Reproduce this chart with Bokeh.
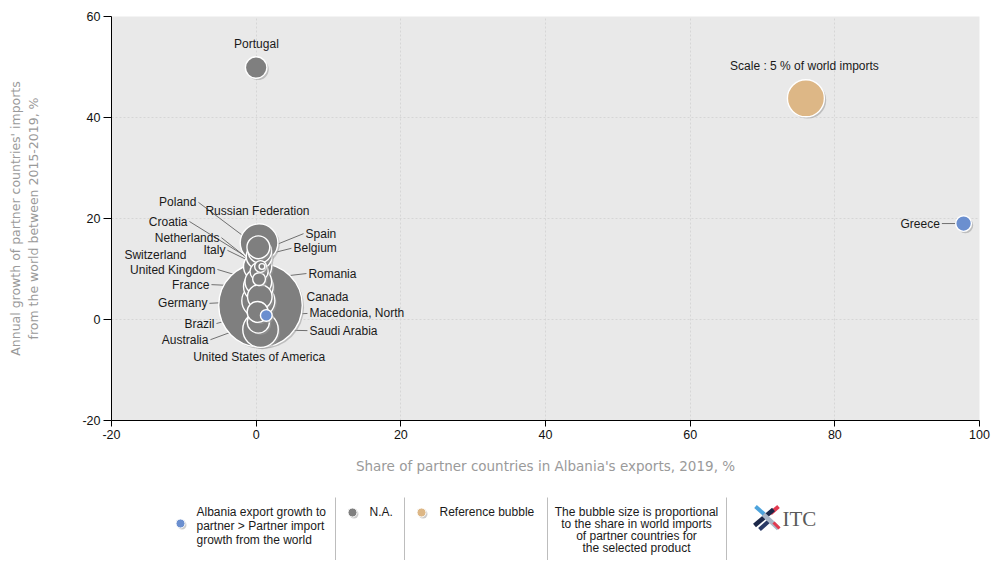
import math
from bokeh.plotting import figure
from bokeh.models import Range1d, FixedTicker
from bokeh.layouts import column
from bokeh.core.properties import value
from bokeh.embed import file_html
from bokeh.resources import INLINE

# ---------------- data ----------------
countries = ["United States of America", "Russian Federation", "Saudi Arabia", "Germany",
             "France", "Netherlands", "United Kingdom", "Belgium", "Canada", "Spain",
             "Poland", "Australia", "Brazil", "Switzerland", "Romania", "Italy",
             "Macedonia, North", "Croatia", "Portugal", "Greece"]
share_exports = [0.6, 0.4, 0.6, 0.3, 0.3, 0.2, 0.3, 0.4, 0.5, 0.5,
                 0.3, 0.3, 0.2, 0.4, 0.4, 0.6, 1.4, 0.8, 0.0, 97.8]
import_growth = [2.8, 15.2, -2.0, 3.7, 6.5, 10.5, 7.5, 12.5, 4.5, 13.5,
                 14.3, -0.5, 1.5, 9.5, 8.0, 10.5, 0.8, 10.5, 49.9, 19.0]
world_import_share = [25.5, 5.2, 4.6, 4.0, 3.2, 2.9, 2.6, 2.4, 2.2, 2.0,
                      1.9, 1.8, 1.6, 1.2, 0.6, 0.5, 0.5, 0.12, 1.7, 0.9]
group = ["na"] * 16 + ["up", "na", "na", "up"]

ref_label = "Scale : 5 % of world imports"
ref_x = [76.0]
ref_y = [43.8]
ref_share = [5.0]

x_ticks = [-20, 0, 20, 40, 60, 80, 100]
y_ticks = [-20, 0, 20, 40, 60]

# ---------------- label layout (data coords) ----------------
label_layout = {
    "Poland": (-7.98, 23.2, "right", True),
    "Russian Federation": (-7.29, 21.4, "left", False),
    "Croatia": (-9.22, 19.4, "right", True),
    "Netherlands": (-4.8, 16.2, "right", True),
    "Switzerland": (-9.36, 12.7, "right", False),
    "Italy": (-3.97, 13.7, "right", True),
    "United Kingdom": (-5.35, 9.9, "right", True),
    "France": (-6.18, 6.9, "right", True),
    "Germany": (-6.46, 3.2, "right", True),
    "Brazil": (-5.49, -0.8, "right", True),
    "Australia": (-6.32, -4.0, "right", True),
    "United States of America": (0.46, -5.6, "center", True),
    "Spain": (6.55, 17.0, "left", True),
    "Belgium": (4.88, 14.1, "left", True),
    "Romania": (6.95, 9.1, "left", True),
    "Canada": (6.68, 4.4, "left", False),
    "Macedonia, North": (7.09, 1.2, "left", True),
    "Saudi Arabia": (7.09, -2.2, "left", True),
    "Portugal": (0.04, 54.5, "center", False),
    "Greece": (94.8, 19.0, "right", True),
}

REF_D = 37.0
def diam(s):
    return REF_D * math.sqrt(s / 5.0)

COL = {"na": "#7f7f7f", "up": "#6b8fcf", "ref": "#ddb786"}
FONT = "Liberation Sans"

FL, FT, FRAME_W, FRAME_H = 111, 16, 868, 404
W = 1000
MAIN_H = 478
p = figure(width=W, height=MAIN_H, x_range=Range1d(-20, 100), y_range=Range1d(-20, 60),
           output_backend="svg", toolbar_location=None,
           min_border_left=FL, min_border_right=W - FL - FRAME_W,
           min_border_top=FT, min_border_bottom=MAIN_H - FT - FRAME_H)
p.background_fill_color = "#e9e9e9"
p.border_fill_color = "white"
p.outline_line_color = None

p.xaxis.ticker = FixedTicker(ticks=x_ticks)
p.yaxis.ticker = FixedTicker(ticks=y_ticks)
p.xaxis.major_label_overrides = {t: str(t) for t in x_ticks}
p.yaxis.major_label_overrides = {t: str(t) for t in y_ticks}
for ax in (p.xaxis[0], p.yaxis[0]):
    ax.axis_line_color = "black"
    ax.major_tick_line_color = "black"
    ax.minor_tick_line_color = None
    ax.major_tick_in = 0
    ax.major_label_text_font = FONT
    ax.major_label_text_font_size = "12.5px"
    ax.major_label_text_color = "#111111"
    ax.axis_label_text_color = "#9a9a9a"
    ax.axis_label_text_font_style = "normal"
p.xaxis.major_tick_out = 6
p.yaxis.major_tick_out = 8
p.xaxis.major_label_standoff = 3
p.yaxis.major_label_standoff = 3
p.xaxis.axis_label = "Share of partner countries in Albania's exports, 2019, %"
p.xaxis.axis_label_text_font = "DejaVu Sans"
p.xaxis.axis_label_text_font_size = "13.5px"
p.xaxis.axis_label_standoff = 16
p.yaxis.axis_label = "Annual growth of partner countries' imports\nfrom the world between 2015-2019, %"
p.yaxis.axis_label_text_font = "DejaVu Sans"
p.yaxis.axis_label_text_font_size = "12.5px"
p.yaxis.axis_label_standoff = 38
p.grid.grid_line_color = "#d6d6d6"
p.grid.grid_line_dash = "2 2"

px_x = 120.0 / FRAME_W
px_y = 80.0 / FRAME_H

# leaders (under bubbles)
lx0, ly0, lx1, ly1 = [], [], [], []
for c, x, y in zip(countries, share_exports, import_growth):
    lx, ly, al, lead = label_layout[c]
    if lead:
        lx0.append(lx); ly0.append(ly); lx1.append(x); ly1.append(y)
p.segment(x0=lx0, y0=ly0, x1=lx1, y1=ly1, line_color="#707070", line_width=1)

# bubbles, largest first
bubbles = list(zip(share_exports, import_growth, world_import_share, group))
bubbles += [(ref_x[0], ref_y[0], ref_share[0], "ref")]
bubbles.sort(key=lambda b: -b[2])
for x, y, s, g in bubbles:
    d = diam(s)
    p.scatter(x=[x + 1.8 * px_x], y=[y - 1.8 * px_y], size=d, marker="circle",
              fill_color="#9a9a9a", fill_alpha=0.55, line_color=None)
    p.scatter(x=[x], y=[y], size=d, marker="circle", fill_color=COL[g],
              line_color="white", line_width=1.4)

# labels
groups = {}
for c in countries:
    lx, ly, al, lead = label_layout[c]
    base = "top" if c == "United States of America" else "middle"
    groups.setdefault((al, base), ([], [], []))
    gx, gy, gt = groups[(al, base)]
    gx.append(lx); gy.append(ly); gt.append(c)
for (al, base), (gx, gy, gt) in groups.items():
    off = {"left": 2, "right": -2, "center": 0}[al]
    p.text(x=gx, y=gy, text=gt, text_align=al, text_baseline=base, x_offset=off,
           y_offset=2 if base == "top" else 0,
           text_font=value(FONT), text_font_size="12px", text_color="#1a1a1a")
p.text(x=[ref_x[0] - 0.2], y=[ref_y[0] + 6.3], text=[ref_label], text_align="center",
       text_baseline="middle", text_font=value(FONT), text_font_size="12px",
       text_color="#1a1a1a")

# ---------------- legend strip (page coordinates) ----------------
LEG_H = 82
lf = figure(width=W, height=LEG_H, x_range=Range1d(FL, FL + FRAME_W),
            y_range=Range1d(MAIN_H + LEG_H, MAIN_H),
            x_axis_type=None, y_axis_type=None, output_backend="svg",
            toolbar_location=None, min_border_left=FL, min_border_right=W - FL - FRAME_W,
            min_border_top=0, min_border_bottom=0)
lf.grid.visible = False
lf.outline_line_color = None
lf.background_fill_color = "white"
lf.border_fill_color = "white"

seps = [335, 404, 547, 726]
lf.segment(x0=seps, y0=[497] * 4, x1=seps, y1=[560] * 4, line_color="#bdbdbd", line_width=1)

dots_x = [180, 352, 421]
dots_y = [523, 512, 512]
dots_c = [COL["up"], COL["na"], COL["ref"]]
lf.scatter(x=[v + 1.5 for v in dots_x], y=[v + 1.5 for v in dots_y], size=9,
           fill_color="#aaaaaa", fill_alpha=0.6, line_color=None)
lf.scatter(x=dots_x, y=dots_y, size=9, fill_color=dots_c, line_color="white", line_width=1)

LF = dict(text_font=value(FONT), text_font_size="12px", text_color="#1a1a1a",
          text_baseline="middle")
lf.text(x=[196] * 3, y=[511, 525, 539],
        text=["Albania export growth to", "partner > Partner import", "growth from the world"],
        text_align="left", **LF)
lf.text(x=[369], y=[511], text=["N.A."], text_align="left", **LF)
lf.text(x=[439], y=[511], text=["Reference bubble"], text_align="left", **LF)
lf.text(x=[636] * 4, y=[511, 523, 535, 547],
        text=["The bubble size is proportional", "to the share in world imports",
              "of partner countries for", "the selected product"],
        text_align="center", **LF)

# ITC logo approximation
lf.segment(x0=[755, 778, 754, 759, 763, 773], y0=[506, 506, 525, 529, 514, 522],
           x1=[764, 770, 773, 768, 778, 779], y1=[514, 513, 509, 521, 528, 528],
           line_color=["#4da3dc", "#e23a50", "#1c2849", "#2a3a66", "#a9b6c8", "#e23a50"],
           line_width=[4, 4, 4.5, 4, 4.5, 3])
lf.text(x=[782], y=[518], text=["ITC"], text_align="left", text_baseline="middle",
        text_font=value("Liberation Serif"), text_font_size="21px", text_color="#5a5a5a")

layout = column(p, lf, spacing=0)
open("out.html", "w").write(file_html(layout, INLINE))
